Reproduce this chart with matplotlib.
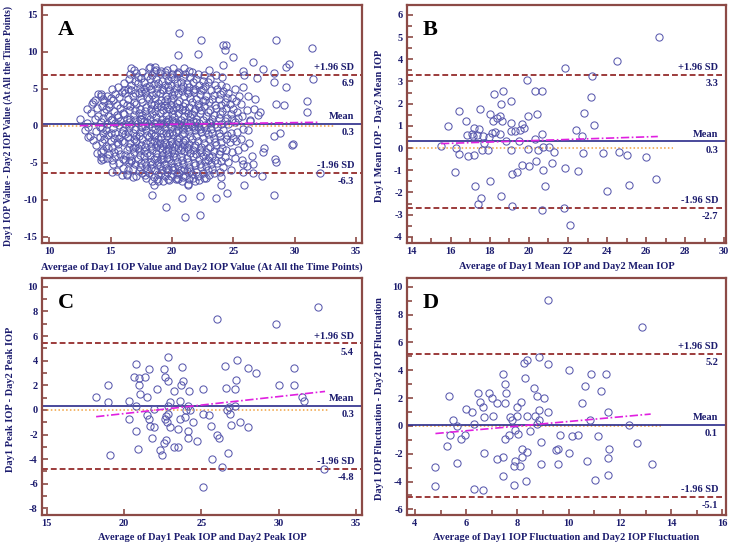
import matplotlib
matplotlib.use("Agg")
import matplotlib.pyplot as plt
from matplotlib.ticker import MultipleLocator

# ---- data (average, difference) ----
A_POINTS = [
    # sparse outer points
    (12.5, 1.0), (12.9, -0.6), (13.1, 2.3), (13.2, -1.5), (13.6, 3.3), (14.2, 4.3), (14.2, -3.5),
    (14.4, -4.4), (15.1, -6.2), (16.3, -6.6), (16.7, 7.8), (18.2, 8.0), (16.7, -4.6), (18.4, -9.3),
    (18.5, -8.0), (19.5, -10.9), (20.8, -9.7), (21.1, -12.3), (22.3, -12.0), (22.3, -9.4), (20.6, 12.6),
    (20.5, 9.6), (22.4, 11.6), (22.1, 9.7), (19.7, -7.1), (20.5, -7.1), (21.3, -8.0), (24.2, 11.0),
    (24.4, 11.0), (24.3, 10.3), (28.5, 11.6), (31.4, 10.6), (25.0, 9.3), (26.6, 8.6), (24.2, 8.2),
    (29.5, 8.4), (29.3, 8.0), (27.4, 7.7), (25.8, 7.4), (26.9, 6.5), (28.3, 7.1), (28.3, 6.0),
    (29.3, 5.3), (31.5, 6.4), (26.8, 3.6), (28.5, 3.0), (29.1, 2.8), (31.0, 3.4), (31.0, 1.9),
    (26.7, 2.3), (27.2, 1.9), (27.0, 1.5), (26.4, 0.7), (28.8, -0.9), (28.3, -1.3), (29.8, -2.6),
    (29.9, -2.4), (27.5, -3.0), (28.4, -4.5), (28.5, -4.9), (27.3, -6.7), (32.1, -6.3), (28.3, -9.3),
    (23.6, -9.7), (24.5, -9.0), (24.0, -8.0), (25.9, -8.0), (22.8, -7.0), (24.0, -6.9), (25.8, -6.2),
    (26.6, -6.4), (25.8, -5.2), (26.6, -5.2), (26.5, -4.0), (27.4, -3.5),
    # dense cloud
    (13.1, 0.4), (13.3, -1.3), (13.4, 1.8), (13.2, -0.2), (13.5, 3.0), (13.6, -1.9),
    (13.7, 0.9), (13.8, -0.7), (13.9, 2.4), (13.8, -2.6), (14.0, 4.3), (14.0, 1.3), (13.9, -3.6),
    (14.1, -0.1), (13.7, 3.5), (14.1, -1.5),
    (14.2, 4.0), (14.3, 2.7), (14.2, 0.6), (14.4, -0.9), (14.3, -2.1), (14.2, -4.2), (14.4, -3.3),
    (14.5, 1.9), (14.5, 3.4), (14.3, -0.3), (14.4, 1.1), (14.2, -4.6), (14.5, -1.7), (14.4, 3.7),
    (14.6, 2.3), (14.7, 0.2), (14.8, -1.2), (14.6, -2.7), (14.9, 3.0), (14.7, 4.1), (14.9, -3.8),
    (14.8, 1.4), (14.6, -0.5), (15.0, -2.0), (14.7, -4.3), (15.0, 0.8), (14.9, 2.6), (15.0, 3.8),
    (14.8, -3.0), (15.0, -0.9),
    (15.1, 5.0), (15.2, 3.5), (15.3, 2.0), (15.1, 1.0), (15.2, -0.3), (15.3, -1.6), (15.1, -2.9),
    (15.4, -4.0), (15.2, -5.2), (15.4, 4.3), (15.5, 2.8), (15.4, 0.4), (15.5, -2.2), (15.3, -3.5),
    (15.5, -6.1), (15.1, -4.6), (15.5, 1.5), (15.4, -0.9),
    (15.6, 5.3), (15.7, 3.9), (15.8, 2.4), (15.6, 1.2), (15.7, 0.1), (15.9, -1.0), (15.6, -2.5),
    (15.8, -3.8), (15.7, -5.0), (15.9, -6.6), (15.9, 4.6), (16.0, 3.1), (15.8, 0.7), (16.0, -0.5),
    (15.9, -2.0), (16.0, -4.4), (15.6, -3.3), (16.0, 1.8), (15.7, -1.6), (16.0, -5.7),
    (16.1, 5.8), (16.2, 4.4), (16.3, 2.9), (16.1, 1.6), (16.2, 0.3), (16.4, -0.8), (16.1, -2.1),
    (16.3, -3.2), (16.2, -4.6), (16.4, -5.9), (16.5, 6.3), (16.4, 3.6), (16.5, 2.2), (16.3, 1.0),
    (16.5, -0.2), (16.4, -1.5), (16.5, -2.8), (16.2, -3.9), (16.5, -4.9), (16.3, -6.5), (16.1, 4.9),
    (16.4, 5.0), (16.2, -1.1), (16.5, 0.6),
    (16.6, 7.0), (16.7, 5.5), (16.8, 4.1), (16.6, 2.7), (16.9, 1.5), (16.7, 0.2), (16.8, -1.0),
    (16.6, -2.3), (16.9, -3.5), (16.7, -4.7), (16.8, -5.8), (16.9, 7.6), (17.0, 6.1), (16.9, 3.3),
    (17.0, 2.1), (16.6, 0.9), (17.0, -0.4), (16.9, -1.8), (17.0, -2.9), (16.6, -4.1), (17.0, -5.2),
    (16.8, -6.9), (16.7, 4.8), (17.0, 0.8), (16.8, -3.0), (17.0, 4.5),
    (17.1, 7.2), (17.2, 5.8), (17.3, 4.4), (17.1, 3.0), (17.3, 1.7), (17.2, 0.4), (17.4, -0.8),
    (17.1, -2.0), (17.3, -3.3), (17.2, -4.5), (17.4, -5.6), (17.1, -6.8), (17.5, 6.5), (17.4, 5.1),
    (17.5, 3.7), (17.4, 2.3), (17.5, 1.0), (17.5, -0.2), (17.3, -1.4), (17.5, -2.6), (17.4, -3.9),
    (17.5, -5.0), (17.3, -6.1), (17.2, 6.6), (17.1, -1.3), (17.4, 0.9), (17.2, -3.0), (17.5, 4.7),
    (17.6, 7.3), (17.7, 6.0), (17.8, 4.6), (17.6, 3.3), (17.8, 2.0), (17.7, 0.7), (17.9, -0.5),
    (17.6, -1.7), (17.8, -2.9), (17.7, -4.1), (17.9, -5.3), (17.6, -6.4), (18.0, 6.7), (17.9, 5.3),
    (18.0, 3.9), (17.9, 2.6), (18.0, 1.3), (17.8, 0.0), (18.0, -1.2), (17.9, -2.3), (18.0, -3.6),
    (17.8, -4.8), (18.0, -5.9), (17.9, -7.0), (17.7, 5.0), (17.6, -0.1), (17.7, -3.4), (18.0, 0.5),
    (17.6, 1.5), (17.8, -6.6),
    (18.1, 7.9), (18.2, 6.3), (18.3, 5.0), (18.1, 3.6), (18.3, 2.3), (18.2, 1.0), (18.4, -0.2),
    (18.1, -1.5), (18.3, -2.7), (18.2, -3.9), (18.4, -5.1), (18.1, -6.3), (18.5, 7.4), (18.4, 6.9),
    (18.5, 5.7), (18.4, 4.2), (18.5, 2.9), (18.4, 1.6), (18.5, 0.4), (18.3, -0.9), (18.5, -2.0),
    (18.4, -3.3), (18.5, -4.5), (18.3, -5.7), (18.5, -6.9), (18.2, -4.8), (18.1, 0.3), (18.3, 3.0),
    (18.2, -2.1), (18.5, -1.3), (18.1, 5.4), (18.4, -7.4),
    (18.6, 8.0), (18.7, 6.4), (18.8, 5.1), (18.6, 3.8), (18.8, 2.5), (18.7, 1.2), (18.9, 0.0),
    (18.6, -1.2), (18.8, -2.4), (18.7, -3.6), (18.9, -4.8), (18.6, -5.9), (18.8, -7.1), (19.0, 7.2),
    (18.9, 5.8), (19.0, 4.4), (18.9, 3.1), (19.0, 1.8), (18.8, 0.6), (19.0, -0.6), (18.9, -1.8),
    (19.0, -3.0), (18.8, -4.2), (19.0, -5.4), (18.9, -6.5), (18.7, 4.5), (18.6, -0.4), (18.7, -2.9),
    (19.0, 0.2), (18.6, 2.0), (18.9, -7.5), (18.7, 7.6), (19.0, -2.3), (18.8, -5.3),
    (19.1, 7.4), (19.2, 6.1), (19.3, 4.8), (19.1, 3.5), (19.3, 2.2), (19.2, 0.9), (19.4, -0.3),
    (19.1, -1.5), (19.3, -2.7), (19.2, -3.9), (19.4, -5.1), (19.1, -6.3), (19.3, -7.4), (19.5, 6.9),
    (19.4, 5.5), (19.5, 4.1), (19.4, 2.8), (19.5, 1.5), (19.3, 0.2), (19.5, -0.9), (19.4, -2.1),
    (19.5, -3.3), (19.3, -4.5), (19.5, -5.7), (19.4, -6.8), (19.2, 5.0), (19.1, 0.4), (19.2, -3.2),
    (19.5, 0.7), (19.1, 2.7), (19.4, 7.3), (19.2, -5.9), (19.5, -2.5), (19.3, -1.0), (19.1, -4.4),
    (19.4, 3.4),
    (19.6, 7.6), (19.7, 6.2), (19.8, 4.9), (19.6, 3.6), (19.8, 2.3), (19.7, 1.0), (19.9, -0.2),
    (19.6, -1.4), (19.8, -2.6), (19.7, -3.8), (19.9, -5.0), (19.6, -6.2), (19.8, -7.3), (20.0, 7.0),
    (19.9, 5.6), (20.0, 4.2), (19.9, 2.9), (20.0, 1.6), (19.8, 0.3), (20.0, -0.8), (19.9, -2.0),
    (20.0, -3.2), (19.8, -4.4), (20.0, -5.6), (19.9, -6.7), (19.7, 5.3), (19.6, 0.5), (19.7, -3.1),
    (20.0, 0.8), (19.6, 2.6), (19.9, 6.6), (19.7, -5.8), (20.0, -2.4), (19.8, -0.9), (19.6, -4.3),
    (19.9, 3.5),
    (20.1, 7.9), (20.2, 6.4), (20.3, 5.1), (20.1, 3.8), (20.3, 2.5), (20.2, 1.2), (20.4, 0.0),
    (20.1, -1.2), (20.3, -2.4), (20.2, -3.6), (20.4, -4.8), (20.1, -6.0), (20.3, -7.2), (20.5, 7.3),
    (20.4, 5.8), (20.5, 4.4), (20.4, 3.1), (20.5, 1.8), (20.3, 0.5), (20.5, -0.6), (20.4, -1.8),
    (20.5, -3.0), (20.3, -4.2), (20.5, -5.4), (20.4, -6.5), (20.2, 4.6), (20.1, 0.6), (20.2, -2.9),
    (20.5, 0.2), (20.1, 2.2), (20.4, 7.0), (20.2, -5.6), (20.5, -2.2), (20.3, -0.8), (20.1, -4.1),
    (20.4, -7.0),
    (20.6, 7.2), (20.7, 6.0), (20.8, 4.7), (20.6, 3.4), (20.8, 2.1), (20.7, 0.8), (20.9, -0.4),
    (20.6, -1.6), (20.8, -2.8), (20.7, -4.0), (20.9, -5.2), (20.6, -6.4), (20.8, -7.5), (21.0, 7.8),
    (20.9, 5.4), (21.0, 4.0), (20.9, 2.7), (21.0, 1.4), (20.8, 0.1), (21.0, -1.0), (20.9, -2.2),
    (21.0, -3.4), (20.8, -4.6), (21.0, -5.8), (20.9, -6.9), (20.7, 5.1), (20.6, 0.3), (20.7, -3.3),
    (21.0, 0.6), (20.6, 2.4), (20.9, 6.6), (20.7, -6.0), (21.0, -2.6), (20.8, -1.1),
    (21.1, 7.0), (21.2, 5.7), (21.3, 4.4), (21.1, 3.1), (21.3, 1.8), (21.2, 0.5), (21.4, -0.7),
    (21.1, -1.9), (21.3, -3.1), (21.2, -4.3), (21.4, -5.5), (21.1, -6.7), (21.3, -7.8), (21.5, 6.6),
    (21.4, 5.2), (21.5, 3.8), (21.4, 2.5), (21.5, 1.2), (21.3, -0.1), (21.5, -1.3), (21.4, -2.5),
    (21.5, -3.7), (21.3, -4.9), (21.5, -6.1), (21.4, -7.2), (21.2, 4.9), (21.1, 0.1), (21.2, -2.8),
    (21.5, 0.4), (21.1, 2.1), (21.4, 7.4), (21.2, -6.1),
    (21.6, 7.3), (21.7, 5.9), (21.8, 4.6), (21.6, 3.3), (21.8, 2.0), (21.7, 0.7), (21.9, -0.5),
    (21.6, -1.7), (21.8, -2.9), (21.7, -4.1), (21.9, -5.3), (21.6, -6.5), (22.0, 6.4), (21.9, 5.0),
    (22.0, 3.6), (21.9, 2.3), (22.0, 1.0), (21.8, -0.2), (22.0, -1.4), (21.9, -2.6), (22.0, -3.8),
    (21.8, -5.0), (22.0, -6.2), (21.7, -7.0), (21.7, 4.9), (21.6, 0.0), (21.7, -3.3), (22.0, 0.5),
    (21.6, 1.6), (21.9, -7.4),
    (22.1, 7.0), (22.2, 5.6), (22.3, 4.3), (22.1, 3.0), (22.3, 1.7), (22.2, 0.4), (22.4, -0.8),
    (22.1, -2.0), (22.3, -3.2), (22.2, -4.4), (22.4, -5.6), (22.1, -6.8), (22.5, 6.1), (22.4, 4.8),
    (22.5, 3.4), (22.4, 2.1), (22.5, 0.8), (22.3, -0.4), (22.5, -1.6), (22.4, -2.8), (22.5, -4.0),
    (22.3, -5.2), (22.5, -6.4), (22.2, -7.3), (22.2, 2.6), (22.1, -0.1), (22.4, -3.5), (22.5, 5.0),
    (22.6, 6.9), (22.7, 5.4), (22.8, 4.0), (22.6, 2.7), (22.8, 1.4), (22.7, 0.1), (22.9, -1.1),
    (22.6, -2.3), (22.8, -3.5), (22.7, -4.7), (22.9, -5.9), (22.6, -7.0), (23.0, 7.6), (22.9, 5.9),
    (23.0, 3.2), (22.9, 1.9), (23.0, 0.6), (22.8, -0.6), (23.0, -1.8), (22.9, -3.0), (23.0, -4.2),
    (22.8, -5.4), (23.0, -6.6), (22.7, 3.5), (22.6, -0.2), (22.9, -4.6),
    (23.1, 6.4), (23.2, 4.9), (23.3, 3.6), (23.1, 2.2), (23.3, 0.9), (23.2, -0.4), (23.4, -1.6),
    (23.1, -2.8), (23.3, -4.0), (23.2, -5.2), (23.4, -6.3), (23.5, 5.6), (23.4, 4.2), (23.5, 2.9),
    (23.4, 1.5), (23.5, 0.2), (23.3, -1.0), (23.5, -2.2), (23.4, -3.4), (23.5, -4.6), (23.3, -5.8),
    (23.1, 0.4),
    (23.6, 6.9), (23.7, 5.0), (23.8, 3.7), (23.6, 2.4), (23.8, 1.1), (23.7, -0.2), (23.9, -1.4),
    (23.6, -2.6), (23.8, -3.8), (23.7, -5.0), (23.9, -6.2), (24.0, 5.5), (23.9, 4.3), (24.0, 2.9),
    (23.9, 1.6), (24.0, 0.3), (23.8, -0.9), (24.0, -2.2), (23.9, -3.4), (24.0, -4.7),
    (24.1, 6.6), (24.2, 4.7), (24.3, 3.3), (24.1, 2.0), (24.3, 0.7), (24.2, -0.6), (24.4, -1.8),
    (24.1, -3.0), (24.3, -4.2), (24.2, -5.5), (24.4, 5.2), (24.5, 3.8), (24.4, 2.4), (24.5, 1.1),
    (24.5, -1.2), (24.4, -3.3),
    (24.6, 4.5), (24.7, 3.0), (24.8, 1.6), (24.6, 0.3), (24.8, -0.9), (24.7, -2.2), (24.9, -3.5),
    (24.6, -4.8), (24.9, 3.8), (25.0, 2.3), (24.9, 0.9), (25.0, -1.6), (24.8, -5.9),
    (25.1, 5.0), (25.2, 3.4), (25.3, 1.9), (25.1, 0.6), (25.3, -0.8), (25.2, -2.0), (25.4, -3.3),
    (25.1, -4.3), (25.5, 4.0), (25.4, 1.1),
    (25.6, 3.0), (25.7, 1.4), (25.8, -0.4), (25.6, -1.8), (25.9, -2.9), (25.7, -4.6), (25.9, 6.9),
    (25.8, 5.3),
    (26.1, 2.2), (26.2, -0.5), (26.3, -2.3), (26.1, -5.4), (26.4, 0.8), (26.2, 4.0),
]

B_POINTS = [
    (15.5, 0.1), (15.88, 1.0), (16.42, 1.65), (16.2, -1.08), (16.27, 0.0), (16.44, -0.27), (16.8, 1.2),
    (16.85, 0.57), (16.88, -0.35), (17.1, 0.63), (17.19, 0.92), (17.16, 0.54), (17.19, -0.32),
    (17.24, -1.7), (17.33, 0.6), (17.46, 0.84), (17.5, 1.77), (17.4, -2.53), (17.55, -2.26),
    (17.6, -0.1), (17.67, 0.56), (17.7, 0.21), (17.9, -0.1), (17.98, 0.48), (18.0, 1.52), (18.0, -1.5),
    (18.1, 0.7), (18.18, 1.22), (18.2, 2.44), (18.27, 0.74), (18.38, 1.34), (18.5, 1.43), (18.5, 0.63),
    (18.57, 1.97), (18.57, -2.17), (18.62, 1.2), (18.67, 2.59), (18.83, 0.33), (19.07, 2.14),
    (19.08, 1.14), (19.08, -0.1), (19.1, 0.75), (19.12, -1.16), (19.12, -2.63), (19.3, 0.75),
    (19.4, -1.1), (19.5, 0.32), (19.55, 0.81), (19.65, 1.08), (19.65, -0.75), (19.75, 0.89),
    (19.9, 3.05), (19.94, -0.03), (19.97, 1.44), (20.02, -0.83), (20.33, 0.42), (20.35, -0.57),
    (20.31, 2.59), (20.4, 1.53), (20.46, -0.1), (20.67, 0.62), (20.68, 2.59), (20.7, 0.04),
    (20.74, -0.99), (20.8, -1.7), (20.67, -2.8), (21.03, 0.06), (21.17, -0.69), (21.27, -0.2),
    (21.85, 3.59), (21.83, -0.92), (21.8, -2.7), (22.1, -3.46), (22.41, 0.8), (22.5, -1.04),
    (22.72, 0.56), (22.77, -0.23), (22.82, 1.59), (23.2, 2.32), (23.23, 3.23), (23.35, 1.04),
    (23.79, -0.23), (23.99, -1.92), (24.5, 3.91), (24.6, -0.18), (25.02, -0.32), (25.14, -1.67),
    (25.98, -0.41), (26.49, -1.41), (26.66, 5.0),
]

C_POINTS = [
    (18.18, 1.01), (18.96, 1.99), (18.96, 0.61), (19.11, -3.67), (20.32, 0.69), (20.34, -0.72),
    (20.64, 2.69), (20.81, 3.69), (20.81, -1.69), (20.81, 0.34), (20.88, -3.18), (20.95, 2.58),
    (20.97, 1.99), (21.04, 1.31), (21.34, 2.69), (21.49, 1.01), (21.51, -0.42), (21.62, 3.29),
    (21.64, -0.72), (21.66, -1.29), (21.81, -2.32), (21.96, 0.09), (21.96, -1.37), (22.11, 1.69),
    (22.35, -3.29), (22.48, -3.64), (22.61, 3.29), (22.63, 2.69), (22.61, -2.69), (22.63, -0.75),
    (22.69, -0.47), (22.74, -2.48), (22.78, -0.99), (22.83, 4.31), (22.83, 2.31), (22.85, 0.31),
    (22.87, -0.31), (22.98, -1.42), (23.0, 0.61), (23.22, -3.02), (23.26, 1.5), (23.5, -3.02),
    (23.5, -1.58), (23.65, 0.69), (23.65, -0.72), (23.73, 3.5), (23.71, 1.99), (23.84, 2.31),
    (23.97, -0.61), (23.99, 0.01), (24.12, 0.28), (24.12, -1.69), (24.12, -2.32), (24.23, 1.5),
    (24.28, -0.02), (24.47, -0.96), (24.73, -2.51), (25.12, 1.69), (25.12, -0.31), (25.12, -6.28),
    (25.49, -0.39), (25.64, -1.29), (25.7, -4.0), (26.03, 7.37), (26.03, -2.02), (26.16, -2.32),
    (26.35, -4.67), (26.5, 3.59), (26.59, 1.8), (26.68, 0.01), (26.74, -3.48), (26.81, 0.26),
    (26.85, -0.31), (26.89, -1.21), (27.17, 0.34), (27.17, 1.69), (27.26, 2.47), (27.32, 4.02),
    (27.5, -0.99), (28.0, 3.4), (28.02, -1.4), (28.51, 2.96), (29.81, 6.97), (30.03, 1.99),
    (31.02, 3.4), (31.02, 1.99), (31.54, 1.01), (31.67, 0.69), (32.54, 8.38), (32.95, -4.83),
]

D_POINTS = [
    (4.79, -2.93), (4.79, -4.32), (5.26, -1.43), (5.34, 2.14), (5.35, -0.66), (5.5, 0.44), (5.65, -2.65),
    (5.66, -0.04), (5.8, -0.95), (5.95, -0.63), (6.0, 1.21), (6.21, 1.02), (6.3, -4.54), (6.32, 0.13),
    (6.45, 2.34), (6.54, 1.74), (6.65, 1.33), (6.67, -4.61), (6.7, 0.66), (6.7, -1.95), (6.88, 2.34),
    (7.0, 2.02), (7.05, 0.73), (7.19, 1.62), (7.2, -2.36), (7.45, 3.7), (7.45, -2.24), (7.45, -3.63),
    (7.5, 3.0), (7.5, 1.62), (7.51, -0.95), (7.57, 2.34), (7.66, -0.66), (7.7, 0.66), (7.8, 0.44),
    (7.85, -2.89), (7.86, -4.25), (7.92, -0.3), (7.92, -2.53), (7.97, 1.33), (8.0, 0.73), (8.01, -0.56),
    (8.1, -2.91), (8.15, 1.71), (8.18, -1.64), (8.18, -2.24), (8.27, 4.54), (8.36, 4.73), (8.31, 3.42),
    (8.33, -3.94), (8.37, 0.73), (8.37, -1.86), (8.5, -0.37), (8.66, 2.74), (8.68, 0.73), (8.77, 2.14),
    (8.77, 0.13), (8.84, 0.44), (8.85, 4.92), (8.86, 1.11), (8.92, -1.16), (8.93, -2.74), (9.02, 2.02),
    (9.18, 9.06), (9.21, 1.02), (9.21, 4.42), (9.5, -1.76), (9.58, -1.64), (9.6, -2.74), (9.67, -0.66),
    (10.02, 4.03), (10.02, -1.95), (10.12, -0.75), (10.38, -0.66), (10.51, 1.62), (10.63, 2.84),
    (10.72, -2.55), (10.85, 0.44), (10.88, 3.7), (11.02, -3.92), (11.14, -0.75), (11.26, 2.53),
    (11.47, 3.7), (11.52, 1.02), (11.54, -2.34), (11.54, -3.53), (11.59, -1.64), (12.34, 0.04),
    (12.67, -1.23), (12.87, 7.08), (13.25, -2.74),
]

# mean difference and limits of agreement
MEANS = [0.3, 0.3, 0.3, 0.1]
UPPER = [6.9, 3.3, 5.4, 5.2]
LOWER = [-6.3, -2.7, -4.8, -5.1]

# regression (magenta) line end points, zero (orange) line extent
REG_X = [(12.5, 32.0), (15.5, 26.6), (18.2, 33.0), (4.8, 13.2)]
REG_Y = [(0.05, 0.5), (0.2, 0.52), (-0.55, 1.5), (-0.55, 0.85)]
ZERO_X = [(10.0, 33.3), (14.0, 27.4), (15.0, 33.2), (4.0, 13.6)]

LETTERS = ["A", "B", "C", "D"]
XLABELS = [
    "Avergae of Day1 IOP Value and Day2 IOP Value (At All the Time Points)",
    "Average of Day1 Mean IOP and Day2 Mean IOP",
    "Average of Day1 Peak IOP and Day2 Peak IOP",
    "Average of Day1 IOP Fluctuation and Day2 IOP Fluctuation",
]
YLABELS = [
    "Day1 IOP Value - Day2 IOP Value (At All the Time Points)",
    "Day1 Mean IOP - Day2 Mean IOP",
    "Day1 Peak IOP - Day2 Peak IOP",
    "Day1 IOP Fluctuation - Day2 IOP Fluctuation",
]

NAVY = "#1c1c6e"
FRAME = "#8c4a46"
SERIF = "Liberation Serif"

plt.rcParams["font.family"] = SERIF
plt.rcParams["font.weight"] = "bold"
plt.rcParams["axes.unicode_minus"] = False

fig = plt.figure(figsize=(7.34, 5.51), dpi=100)

# axes rectangles in figure fraction
rects = [
    (0.0572, 0.559, 0.436, 0.432),
    (0.5545, 0.559, 0.4346, 0.432),
    (0.0572, 0.0653, 0.436, 0.430),
    (0.5545, 0.0653, 0.4346, 0.430),
]
limits = [
    ((9.41, 35.49), (-15.81, 16.35)),
    ((13.76, 30.09), (-4.28, 6.45)),
    ((14.70, 35.39), (-8.54, 10.71)),
    ((3.69, 16.14), (-6.41, 10.63)),
]
# (x major, x minor, y major, y minor)
ticks = [(5, None, 5, None), (2, 1, 1, 0.5), (5, None, 2, 1), (2, 1, 2, 1)]
xlab_y = [-0.08, -0.08, -0.075, -0.075]
ylab_x = [-0.09, -0.072, -0.084, -0.072]
ylab_size = [6.9, 7.5, 7.5, 7.5]


def draw_panel(i):
    ax = fig.add_axes(rects[i])
    pts = [A_POINTS, B_POINTS, C_POINTS, D_POINTS][i]
    xs = [p[0] for p in pts]
    ys = [p[1] for p in pts]

    ax.plot(ZERO_X[i], [0, 0], color="#f0a040", lw=1.1, ls=(0, (1, 1.5)), zorder=2)
    ax.axhline(MEANS[i], color="#2a2a8a", lw=1.2, zorder=2)
    for v in (UPPER[i], LOWER[i]):
        ax.axhline(v, color="#8b1a1a", lw=1.2, ls=(0, (3.5, 1.8)), zorder=2)
    ax.plot(xs, ys, ls="none", marker="o", ms=5.2, mfc="none", mec="#5a5aae", mew=0.75, zorder=3)
    ax.plot(REG_X[i], REG_Y[i], color="#e020e0", lw=1.2, ls=(0, (5, 1.5, 1, 1.5)), zorder=4)

    ax.set_xlim(*limits[i][0])
    ax.set_ylim(*limits[i][1])
    xmaj, xmin, ymaj, ymin = ticks[i]
    ax.xaxis.set_major_locator(MultipleLocator(xmaj))
    ax.yaxis.set_major_locator(MultipleLocator(ymaj))
    if xmin:
        ax.xaxis.set_minor_locator(MultipleLocator(xmin))
    if ymin:
        ax.yaxis.set_minor_locator(MultipleLocator(ymin))

    for s in ax.spines.values():
        s.set_color(FRAME)
        s.set_linewidth(1.6)
    ax.tick_params(which="both", direction="in", color=FRAME, width=1.2,
                   labelsize=7.5, labelcolor=NAVY, pad=3)
    ax.tick_params(which="major", length=4)
    ax.tick_params(which="minor", length=3.5)
    for lab in ax.get_xticklabels() + ax.get_yticklabels():
        lab.set_fontweight("bold")

    ax.set_xlabel(XLABELS[i], fontsize=7.5, color=NAVY, fontweight="bold")
    ax.set_ylabel(YLABELS[i], fontsize=ylab_size[i], color=NAVY, fontweight="bold")
    ax.xaxis.set_label_coords(0.5, xlab_y[i])
    ax.yaxis.set_label_coords(ylab_x[i], 0.49)

    # labels for the limits of agreement and the mean
    tr = ax.get_yaxis_transform()
    for name, v in (("+1.96 SD", UPPER[i]), ("Mean", MEANS[i]), ("-1.96 SD", LOWER[i])):
        ax.annotate(name, (0.975, v), xycoords=tr, xytext=(0, 2),
                    textcoords="offset points", va="bottom", ha="right",
                    fontsize=7.5, color=NAVY, fontweight="bold")
        ax.annotate(f"{v:.1f}", (0.975, v), xycoords=tr, xytext=(0, -3),
                    textcoords="offset points", va="top", ha="right",
                    fontsize=7.5, color=NAVY, fontweight="bold")

    ax.text(0.05, 0.935, LETTERS[i], transform=ax.transAxes, ha="left", va="top",
            fontsize=16, fontweight="bold", color="black")
    return ax


for i in range(4):
    draw_panel(i)

fig.savefig("out.png", dpi=100)
